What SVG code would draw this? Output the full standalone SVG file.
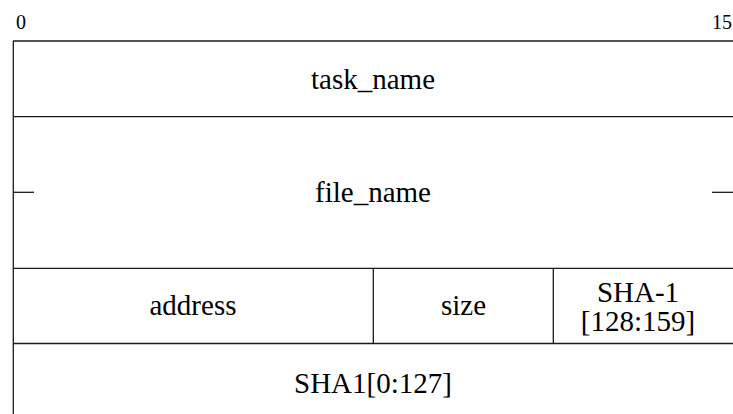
<svg xmlns="http://www.w3.org/2000/svg" width="733" height="414" viewBox="0 0 733 414">
  <style>
    .rule { stroke: #1a1a1a; stroke-width: 1.3; fill: none; }
    .bit { font-family: 'Liberation Serif', 'Times New Roman', serif; font-size: 20px; fill: #000; }
    .field { font-family: 'Liberation Serif', 'Times New Roman', serif; font-size: 29px; fill: #000; text-anchor: middle; }
  </style>
  <rect width="733" height="414" fill="#fff"/>

  <!-- bit numbering -->
  <g id="bit-labels">
    <text class="bit" x="16" y="29">0</text>
    <text class="bit" x="732" y="29" text-anchor="end">15</text>
  </g>

  <!-- frame and row separators -->
  <g id="frame">
    <line class="rule" x1="13" y1="41" x2="733" y2="41"/>
    <line class="rule" x1="13" y1="116.7" x2="733" y2="116.7"/>
    <line class="rule" x1="13" y1="268.3" x2="733" y2="268.3"/>
    <line class="rule" x1="13" y1="343.5" x2="733" y2="343.5"/>
    <line class="rule" x1="13.3" y1="41" x2="13.3" y2="414"/>
  </g>

  <!-- fields -->
  <g id="task_name">
    <text class="field" x="373" y="88.5">task_name</text>
  </g>

  <g id="file_name">
    <line class="rule" x1="13" y1="192.3" x2="34" y2="192.3"/>
    <line class="rule" x1="712" y1="192.3" x2="733" y2="192.3"/>
    <text class="field" x="373" y="202">file_name</text>
  </g>

  <g id="address">
    <text class="field" x="193" y="315">address</text>
  </g>

  <g id="size">
    <line class="rule" x1="373.3" y1="268.3" x2="373.3" y2="343.5"/>
    <text class="field" x="463.5" y="315">size</text>
  </g>

  <g id="sha1-high">
    <line class="rule" x1="553.3" y1="268.3" x2="553.3" y2="343.5"/>
    <text class="field" x="638" y="301.5">SHA-1</text>
    <text class="field" x="638" y="331">[128:159]</text>
  </g>

  <g id="sha1-low">
    <text class="field" x="373" y="393">SHA1[0:127]</text>
  </g>
</svg>
